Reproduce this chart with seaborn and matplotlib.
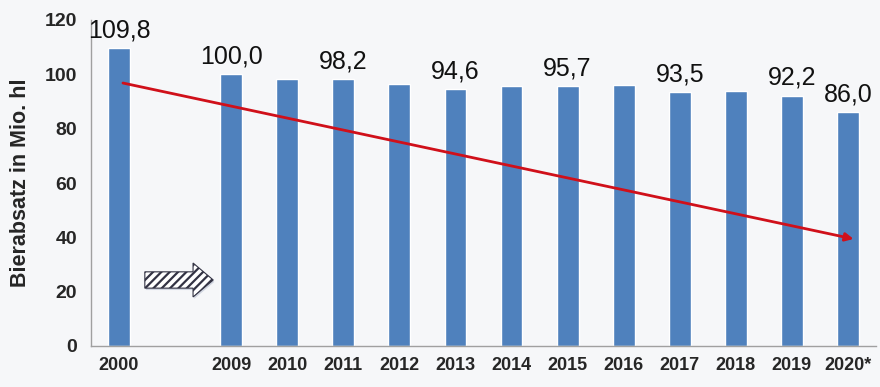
import matplotlib
matplotlib.use("Agg")
import matplotlib.pyplot as plt
import seaborn as sns
import pandas as pd
from matplotlib.patches import FancyArrow

years = ["2000", "2009", "2010", "2011", "2012", "2013", "2014",
         "2015", "2016", "2017", "2018", "2019", "2020*"]
values = [109.8, 100.0, 98.3, 98.2, 96.5, 94.6, 95.6,
          95.7, 95.9, 93.5, 94.0, 92.2, 86.0]
labelled = ["2000", "2009", "2011", "2013", "2015", "2017", "2019", "2020*"]
order = ["2000", " "] + years[1:]
trend_start = 96.8
trend_end = 39.4

sns.set_style("white")
plt.rcParams["font.family"] = ["Liberation Sans", "DejaVu Sans"]
plt.rcParams["hatch.linewidth"] = 1.6

bg = "#f6f7f9"
fig = plt.figure(figsize=(8.8, 3.87), dpi=100, facecolor=bg)
ax = fig.add_axes([91 / 880, 41 / 387, 785 / 880, 326 / 387])
ax.set_facecolor(bg)

df = pd.DataFrame({"Jahr": years, "Absatz": values})
sns.barplot(data=df, x="Jahr", y="Absatz", order=order, color="#4f81bd",
            saturation=1, width=0.39, ax=ax)

ax.set_ylim(0, 120)
ax.set_xlim(-0.5, len(order) - 0.5)
ax.set_yticks(range(0, 121, 20))
ax.set_xticks(range(len(order)))
ax.set_xticklabels(order)
ax.set_xticks([i - 0.5 for i in range(len(order) + 1)], minor=True)
ax.tick_params(axis="x", which="major", length=0, pad=8, labelsize=13)
ax.tick_params(axis="x", which="minor", length=5, color="#a0a0a0", width=1)
ax.tick_params(axis="y", length=5, color="#a0a0a0", labelsize=14, pad=5)
for t in ax.get_xticklabels() + ax.get_yticklabels():
    t.set_fontweight("bold")
ax.set_xlabel("")
ax.set_ylabel("Bierabsatz in Mio. hl", fontsize=15.5, fontweight="bold", labelpad=10)

for s in ["top", "right"]:
    ax.spines[s].set_visible(False)
for s in ["left", "bottom"]:
    ax.spines[s].set_color("#a0a0a0")
    ax.spines[s].set_linewidth(1)

for yr, v in zip(years, values):
    if yr in labelled:
        xi = order.index(yr)
        ax.annotate(f"{v:.1f}".replace(".", ","), xy=(xi, v), xytext=(0, 4),
                    textcoords="offset points", ha="center", va="bottom",
                    fontsize=18, color="#111111")

# red trend arrow
ax.annotate("", xy=(13.1, trend_end), xytext=(0.07, trend_start),
            arrowprops=dict(arrowstyle="-|>", color="#d0101a", lw=2,
                            shrinkA=0, shrinkB=0, mutation_scale=12))

# hatched arrow in the gap
shadow = FancyArrow(0.48, 23.6, 1.22, 0, width=6, head_width=12.5,
                    head_length=0.36, length_includes_head=True,
                    facecolor="#b8bfd0", edgecolor="none", alpha=0.6, zorder=3)
ax.add_patch(shadow)
arr = FancyArrow(0.46, 24.3, 1.22, 0, width=6, head_width=12.5,
                 head_length=0.36, length_includes_head=True,
                 facecolor="white", edgecolor="#333344", hatch="////",
                 linewidth=0.8, zorder=4)
ax.add_patch(arr)

fig.savefig("out.png", dpi=100, facecolor=bg)
